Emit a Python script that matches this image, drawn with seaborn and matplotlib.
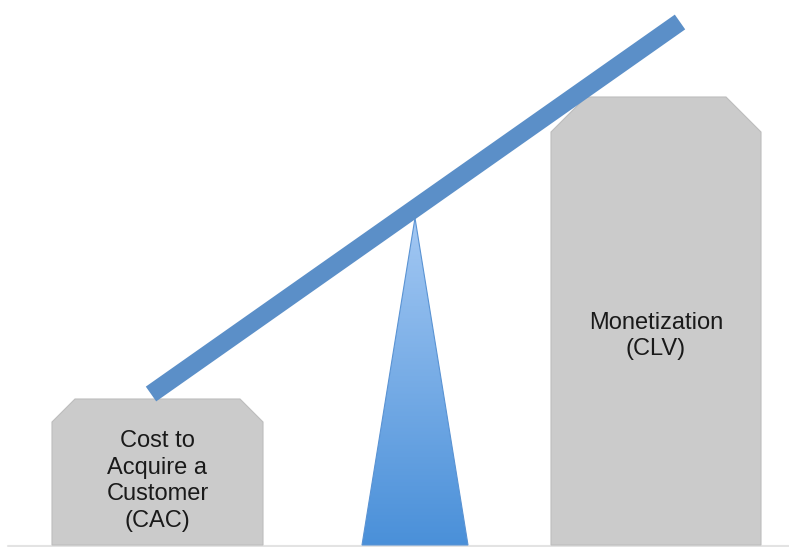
import numpy as np
import pandas as pd
import matplotlib
matplotlib.use("Agg")
import matplotlib.pyplot as plt
from matplotlib.patches import Polygon
import seaborn as sns

# Blocks (left / right) : label, left x, right x, top y (pixel space, y down)
labels = ["Cost to\nAcquire a\nCustomer\n(CAC)", "Monetization\n(CLV)"]
block_left = [52, 551]
block_right = [263, 761]
block_top = [399, 97]
label_y = [481, 336]

# Beam of the balance
beam_x = [151, 680]
beam_y = [394, 22]

# Fulcrum triangle
fulcrum_x = [362, 415, 468]
fulcrum_y = [545, 218, 545]

ground_y = 545

sns.set_theme(style="white")
plt.rcParams["font.family"] = ["Liberation Sans", "DejaVu Sans"]

fig = plt.figure(figsize=(7.89, 5.47), dpi=100)
ax = fig.add_axes([0, 0, 1, 1])

# grey blocks with chamfered top corners
chamfer = [23, 35]
for lab, x0, x1, yt, ly, c in zip(labels, block_left, block_right, block_top, label_y, chamfer):
    pts = [(x0, ground_y), (x0, yt + c), (x0 + c, yt), (x1 - c, yt),
           (x1, yt + c), (x1, ground_y)]
    ax.add_patch(Polygon(pts, closed=True, facecolor="#cbcbcb",
                         edgecolor="#bdbdbd", linewidth=0.8, zorder=2))
    ax.text((x0 + x1) / 2, ly, lab, ha="center", va="center",
            fontsize=17, color="#1a1a1a", linespacing=1.28, zorder=4)

# fulcrum with vertical gradient
tri = Polygon(list(zip(fulcrum_x, fulcrum_y)), closed=True,
              facecolor="none", edgecolor="#5a93d3", linewidth=0.8, zorder=3)
ax.add_patch(tri)
grad = np.linspace(0, 1, 256).reshape(-1, 1)
cmap = matplotlib.colors.LinearSegmentedColormap.from_list("f", ["#a3c8f3", "#4a90d9"])
im = ax.imshow(grad, cmap=cmap, aspect="auto",
               extent=(min(fulcrum_x), max(fulcrum_x), max(fulcrum_y), min(fulcrum_y)),
               zorder=2.5)
im.set_clip_path(tri)

# beam
beam = pd.DataFrame({"x": beam_x, "y": beam_y})
sns.lineplot(data=beam, x="x", y="y", ax=ax, color="#5b8fc8",
             linewidth=13, solid_capstyle="butt", zorder=5)

# ground line
ax.plot([8, 789], [ground_y + 1, ground_y + 1], color="#e3e3e3", linewidth=1.5, zorder=1)

ax.set_xlim(0, 789)
ax.set_ylim(547, 0)
ax.axis("off")

fig.savefig("out.png", dpi=100)
